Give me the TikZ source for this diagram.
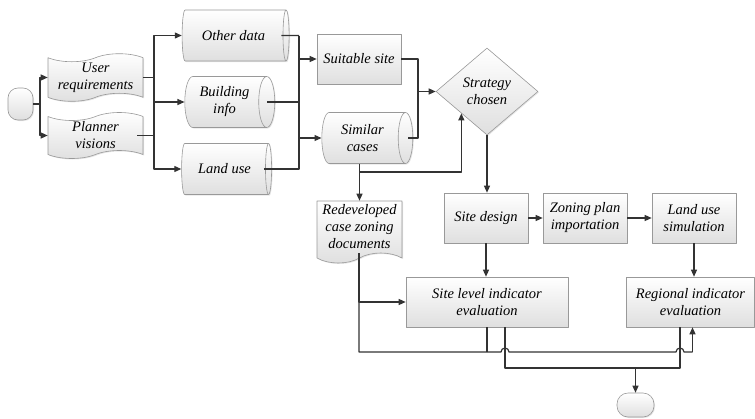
\documentclass[tikz,border=0pt]{standalone}
\usepackage{fontspec}
\setmainfont{Liberation Serif}
\usetikzlibrary{shapes.geometric,shapes.symbols,shapes.misc,arrows.meta,shadows}
\tikzset{
  box/.style={draw=gray!80,line width=0.6pt,top color=white,bottom color=gray!25,
    drop shadow={opacity=0.2,shadow xshift=1pt,shadow yshift=-1pt},
    font=\fontsize{14.5}{17}\selectfont\itshape,align=center,inner sep=1pt},
  process/.style={box,rectangle,minimum width=84pt,minimum height=50pt},
  datacyl/.style={box,cylinder,shape aspect=0.5,minimum width=51pt},
  tapebox/.style={box,tape,tape bend height=8pt,minimum width=95pt,minimum height=46pt},
  docbox/.style={box,tape,tape bend top=none,tape bend height=10pt,minimum width=85pt,minimum height=62pt},
  decision/.style={box,diamond,minimum width=102pt,minimum height=87pt,inner sep=0pt},
  term/.style={box,rectangle,rounded corners=10pt},
  line/.style={draw=black!80,line width=1.2pt}
}
\begin{document}
\begin{tikzpicture}[x=1pt,y=-1pt,>={Triangle[length=7pt,width=6pt]},line join=round]
  \useasboundingbox (0,0) rectangle (755,418);
  % nodes
  \node[term,minimum width=25pt,minimum height=32pt] (start) at (20.5,104) {};
  \node[tapebox] (userreq) at (95.5,77.5) {User\\requirements};
  \node[tapebox] (planner) at (95.5,135.5) {Planner\\visions};
  \node[datacyl,minimum height=107pt] (otherdata) at (233.5,35.5) {Other data};
  \node[datacyl,minimum height=90pt] (building) at (224.5,102) {Building\\info};
  \node[datacyl,minimum height=90pt] (landuse) at (224.5,169) {Land use};
  \node[process] (suitable) at (359,59) {Suitable site};
  \node[datacyl,minimum height=91pt] (similar) at (362.5,138) {Similar\\cases};
  \node[decision] (strategy) at (487,91.5) {Strategy\\chosen};
  \node[docbox] (redev) at (359.5,227) {Redeveloped\\case zoning\\documents};
  \node[process] (sitedesign) at (486,218) {Site design};
  \node[process] (zoning) at (585,218) {Zoning plan\\importation};
  \node[process] (landsim) at (694,218) {Land use\\simulation};
  \node[process,minimum width=162pt] (sitelevel) at (487,302) {Site level indicator\\evaluation};
  \node[process,minimum width=128pt] (regional) at (690.5,302) {Regional indicator\\evaluation};
  \node[term,minimum width=37pt,minimum height=24pt,rounded corners=11pt] (finish) at (635.5,405) {};
  % bus points
  \coordinate (sb) at (40,104);
  \coordinate (ub) at (154,77.5);
  \coordinate (db) at (299,35.5);
  \coordinate (sj) at (418,91.5);
  \coordinate (rb) at (359,352);
  \coordinate (lb) at (505,368);
  % connectors
  \draw[line] (start.east) -- (sb);
  \draw[line,->] (sb) |- (userreq.west);
  \draw[line,->] (sb) |- (planner.west);
  \draw[line] (userreq.east) -- (ub);
  \draw[line] ([xshift=-6pt]planner.east) -| (ub);
  \draw[line,->] (ub) |- (otherdata.west);
  \draw[line,->] (ub) |- (building.west);
  \draw[line,->] (ub) |- (landuse.west);
  \draw[line] ([xshift=-8pt]otherdata.east) -- (db);
  \draw[line] ([xshift=-8pt]building.east) -| (db);
  \draw[line] ([xshift=-8pt]landuse.east) -| (db);
  \draw[line,->] (db |- suitable.west) -- (suitable.west);
  \draw[line,->] (db |- similar.west) -- (similar.west);
  \draw[line] (suitable.east) -| (sj);
  \draw[line] ([xshift=-5pt]similar.east) -| (sj);
  \draw[line,->] (sj) -- (strategy.west);
  \draw[line,->] (redev.north |- similar.south) -- (redev.north);
  \draw[line,->] (redev.north |- 0,172) -| (strategy.south west);
  \draw[line,->] (strategy.south) -- (strategy.south |- sitedesign.north);
  \draw[line,->] (sitedesign.east) -- (zoning.west);
  \draw[line,->] (zoning.east) -- (landsim.west);
  \draw[line,->] (sitedesign.south) -- (sitedesign.south |- sitelevel.north);
  \draw[line,->] (landsim.south) -- (landsim.south |- regional.north);
  \draw[line,->] (redev.south -| rb) |- (sitelevel.west);
  \draw[line] (redev.south -| rb) -- (rb) -- (501,352) arc[start angle=180,end angle=360,radius=4]
    -- (676,352) arc[start angle=180,end angle=360,radius=4] -- (692.5,352);
  \draw[line,->] (692.5,352) -- ([xshift=2pt]regional.south);
  \draw[line] (sitelevel.south) -- (sitelevel.south |- rb);
  \draw[line] (sitelevel.south -| lb) -- (lb) -| ([xshift=-10.5pt]regional.south);
  \draw[line,->] (finish.north |- lb) -- (finish.north);
\end{tikzpicture}
\end{document}
